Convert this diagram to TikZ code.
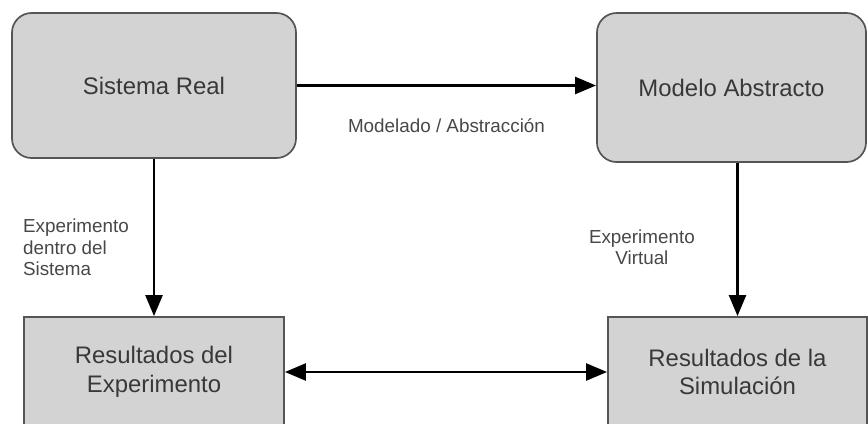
\documentclass[tikz,border=0pt]{standalone}
\usepackage{fontspec}
\setmainfont{Liberation Sans}
\usetikzlibrary{arrows.meta}

\definecolor{boxfill}{HTML}{D3D3D3}
\definecolor{boxline}{HTML}{555555}
\definecolor{boxtext}{HTML}{383838}
\definecolor{labeltext}{HTML}{474747}

\begin{document}
\begin{tikzpicture}[x=0.025cm,y=-0.025cm,>={Triangle[length=15pt,width=12pt]},
        line width=2.1pt,
        main node/.style={draw=boxline,fill=boxfill,line width=1.2pt,text=boxtext,
          align=center,font=\fontsize{17}{20.5}\selectfont},
        round node/.style={main node,rounded corners=14pt},
        flat node/.style={main node}]
        \clip (0,0) rectangle (868,423);
        \node[round node,minimum width=7.1cm,minimum height=3.625cm] (real) at (154,85.5) {Sistema Real};
        \node[round node,minimum width=6.725cm,minimum height=3.725cm] (modelo) at (731.5,87.5) {Modelo Abstracto};
        \node[flat node,minimum width=6.5cm,minimum height=2.75cm] (resexp) at (154,372) {Resultados del\\Experimento};
        \node[flat node,minimum width=6.475cm,minimum height=2.75cm] (ressim) at (737.5,372) {Resultados de la\\Simulación};
        \path[->,every node/.style={font=\fontsize{13.4}{15}\selectfont,text=labeltext}]
        (real.east) edge node [below=19pt] {Modelado / Abstracción} (real.east -| modelo.west)
        (real.south) edge node [left=13.5pt,yshift=-7pt,align=left] {Experimento\\dentro del\\Sistema} (resexp.north)
        (modelo.south -| ressim.north) edge node [left=26pt,yshift=-5.7pt,align=center] {Experimento\\Virtual} (ressim.north)
        (resexp.east) edge [<->] (ressim.west)
        ;
\end{tikzpicture}
\end{document}
